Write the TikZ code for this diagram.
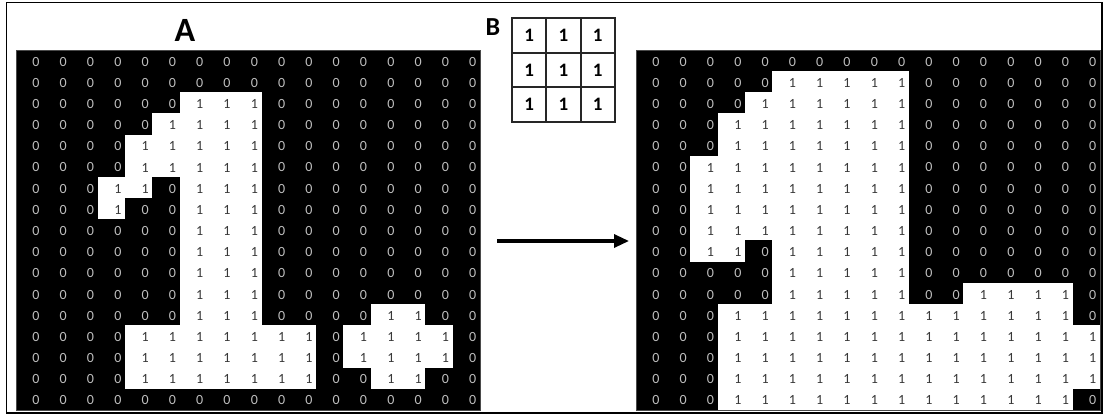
\documentclass[tikz,border=0pt]{standalone}
\usepackage{fontspec}
\setmainfont{Carlito}
\usepackage{tikz}
\usetikzlibrary{
  arrows.meta,
}
\definecolor{zerogray}{HTML}{BEBEBE}
\definecolor{onegray}{HTML}{383838}
\definecolor{framegray}{HTML}{4A4A4A}

\newcommand{\cellw}{27.3}
\newcommand{\cellh}{21.18}
% bit grid: #1 name, #2 left edge, #3 rows of 17 bits
\newcommand{\bitgrid}[3]{%
  \fill[black] (#2,50) rectangle ++({17*\cellw},{17*\cellh});
  \foreach \bits [count=\r] in {#3} {
    \foreach \v [count=\c] in \bits {
      \fill[cell\v] ({#2+(\c-1)*\cellw-0.2},{50+(\r-1)*\cellh-0.2})
        rectangle ++({\cellw+0.4},{\cellh+0.4});
      \node[bit\v] (#1-\r-\c) at ({#2+(\c-0.27)*\cellw},{50+(\r-0.5)*\cellh+1}) {\v};
    }
  }
  \draw[framegray, line width=1pt] (#2,50) rectangle ++({17*\cellw},{17*\cellh});
}

\begin{document}
\begin{tikzpicture}[
    x=1pt, y=-1pt,
    bit0/.style={text=zerogray, inner sep=0pt, font=\fontsize{14}{14}\selectfont},
    bit1/.style={bit0, text=onegray},
    cell0/.style={black},
    cell1/.style={white},
    kern/.style={draw=black!85, line width=2pt, inner sep=0pt,
                 minimum width=34.3pt, minimum height=34.7pt,
                 font=\bfseries\fontsize{19}{19}\selectfont},
    tag/.style={inner sep=0pt, font=\bfseries\fontsize{#1}{#1}\selectfont},
  ]
  \useasboundingbox (0,0) rectangle (1105,416);
  \fill[white] (0,0) rectangle (1105,416);

  % input image A
  \bitgrid{A}{16}{
    {0,0,0,0,0,0,0,0,0,0,0,0,0,0,0,0,0},
    {0,0,0,0,0,0,0,0,0,0,0,0,0,0,0,0,0},
    {0,0,0,0,0,0,1,1,1,0,0,0,0,0,0,0,0},
    {0,0,0,0,0,1,1,1,1,0,0,0,0,0,0,0,0},
    {0,0,0,0,1,1,1,1,1,0,0,0,0,0,0,0,0},
    {0,0,0,0,1,1,1,1,1,0,0,0,0,0,0,0,0},
    {0,0,0,1,1,0,1,1,1,0,0,0,0,0,0,0,0},
    {0,0,0,1,0,0,1,1,1,0,0,0,0,0,0,0,0},
    {0,0,0,0,0,0,1,1,1,0,0,0,0,0,0,0,0},
    {0,0,0,0,0,0,1,1,1,0,0,0,0,0,0,0,0},
    {0,0,0,0,0,0,1,1,1,0,0,0,0,0,0,0,0},
    {0,0,0,0,0,0,1,1,1,0,0,0,0,0,0,0,0},
    {0,0,0,0,0,0,1,1,1,0,0,0,0,1,1,0,0},
    {0,0,0,0,1,1,1,1,1,1,1,0,1,1,1,1,0},
    {0,0,0,0,1,1,1,1,1,1,1,0,1,1,1,1,0},
    {0,0,0,0,1,1,1,1,1,1,1,0,0,1,1,0,0},
    {0,0,0,0,0,0,0,0,0,0,0,0,0,0,0,0,0}}

  % result
  \bitgrid{R}{636}{
    {0,0,0,0,0,0,0,0,0,0,0,0,0,0,0,0,0},
    {0,0,0,0,0,1,1,1,1,1,0,0,0,0,0,0,0},
    {0,0,0,0,1,1,1,1,1,1,0,0,0,0,0,0,0},
    {0,0,0,1,1,1,1,1,1,1,0,0,0,0,0,0,0},
    {0,0,0,1,1,1,1,1,1,1,0,0,0,0,0,0,0},
    {0,0,1,1,1,1,1,1,1,1,0,0,0,0,0,0,0},
    {0,0,1,1,1,1,1,1,1,1,0,0,0,0,0,0,0},
    {0,0,1,1,1,1,1,1,1,1,0,0,0,0,0,0,0},
    {0,0,1,1,1,1,1,1,1,1,0,0,0,0,0,0,0},
    {0,0,1,1,0,1,1,1,1,1,0,0,0,0,0,0,0},
    {0,0,0,0,0,1,1,1,1,1,0,0,0,0,0,0,0},
    {0,0,0,0,0,1,1,1,1,1,0,0,1,1,1,1,0},
    {0,0,0,1,1,1,1,1,1,1,1,1,1,1,1,1,0},
    {0,0,0,1,1,1,1,1,1,1,1,1,1,1,1,1,1},
    {0,0,0,1,1,1,1,1,1,1,1,1,1,1,1,1,1},
    {0,0,0,1,1,1,1,1,1,1,1,1,1,1,1,1,1},
    {0,0,0,1,1,1,1,1,1,1,1,1,1,1,1,1,0}}

  % structuring element B
  \foreach \r in {1,2,3}
    \foreach \c in {1,2,3}
      \node[kern] (k-\r-\c) at ({512+(\c-0.5)*34.3},{18+(\r-0.5)*34.7}) {1};

  \node[tag=34] (labA) at (185,30) {A};
  \node[tag=26] (labB) at (493,27) {B};

  \coordinate (arrowtail) at (497,241);
  \coordinate (arrowtip)  at (629,241);
  \draw[-{Triangle[length=15pt,width=13pt]}, line width=3.2pt]
    (arrowtail) -- (arrowtip);

  \draw[line width=1.6pt] (6.5,2.5) rectangle (1102,413);
\end{tikzpicture}
\end{document}
